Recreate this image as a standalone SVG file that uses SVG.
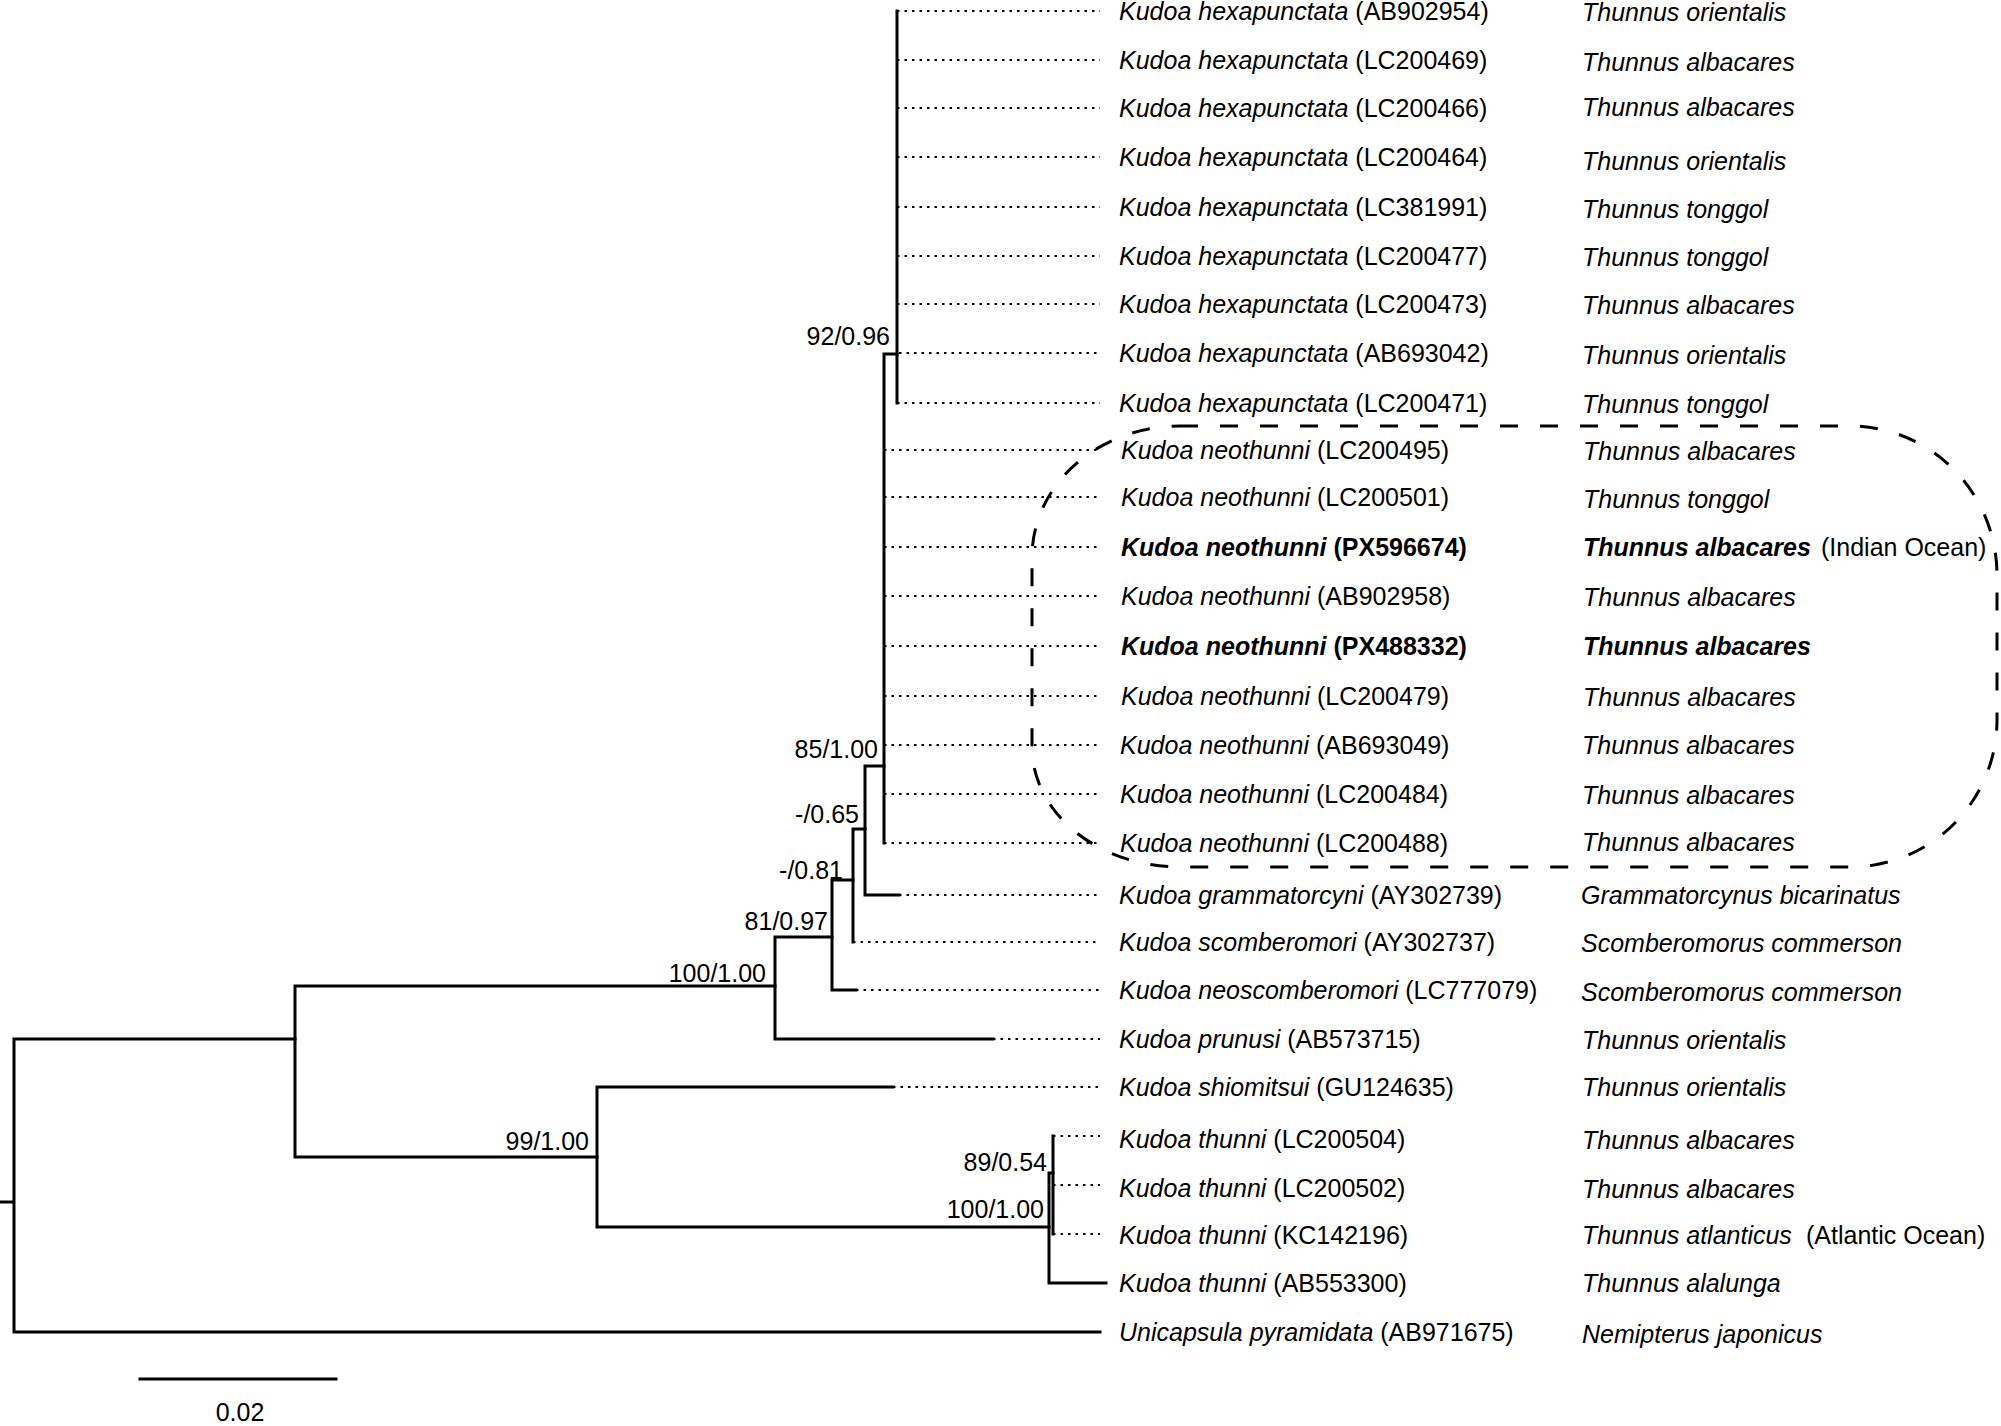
<svg xmlns="http://www.w3.org/2000/svg" width="2001" height="1426" viewBox="0 0 2001 1426">
<style>
text{font-family:"Liberation Sans",Arial,sans-serif;font-size:25px;fill:#000}
.i{font-style:italic}
.b{font-weight:bold}
.br{stroke:#000;stroke-width:3;fill:none;stroke-linecap:square}
.dt{stroke:#000;stroke-width:2;stroke-dasharray:2.5 5;fill:none}
.lab{text-anchor:end}
</style>
<rect width="2001" height="1426" fill="#fff"/>
<g id="connectors">
<path class="br" d="M0 1202H14M14 1039V1332M14 1039H295M14 1332H1100"/>
<path class="br" d="M295 986V1157M295 986H775M295 1157H597"/>
<path class="br" d="M775 937V1039M775 937H832M775 1039H993"/>
<path class="br" d="M832 880V990M832 880H853M832 990H856"/>
<path class="br" d="M853 829V942M853 829H865"/>
<path class="br" d="M865 766V895M865 766H884M865 895H899"/>
<path class="br" d="M884 354V843M884 354H897"/>
<path class="br" d="M897 11V403"/>
<path class="br" d="M597 1087V1227M597 1087H893M597 1227H1049"/>
<path class="br" d="M1049 1173V1283M1049 1173H1053M1049 1283H1106"/>
<path class="br" d="M1053 1136V1234"/>
<path class="dt" d="M897 11H1100M897 60H1100M897 108H1100M897 157H1100M897 207H1100M897 256H1100M897 304H1100M899 353H1100M897 403H1100"/>
<path class="dt" d="M884 450H1100M884 497H1100M884 547H1100M884 596H1100M884 646H1100M884 696H1100M884 745H1100M884 794H1100M884 843H1100"/>
<path class="dt" d="M899 895H1100M853 942H1100M856 990H1100M993 1039H1100M893 1087H1100M1053 1136H1100M1053 1185H1100M1053 1234H1100"/>
</g>
<g id="neothunni-clade-outline">
<path d="M1180 426H1850A147 149 0 0 1 1997 575V720A147 147 0 0 1 1850 867H1180A148 120 0 0 1 1032 747V557A148 131 0 0 1 1180 426Z" fill="none" stroke="#000" stroke-width="3" stroke-dasharray="18 22"/>
</g>
<g id="support-labels">
<text class="lab" x="890" y="345">92/0.96</text>
<text class="lab" x="878" y="758">85/1.00</text>
<text class="lab" x="859" y="823">-/0.65</text>
<text class="lab" x="843" y="879">-/0.81</text>
<text class="lab" x="828" y="930">81/0.97</text>
<text class="lab" x="766" y="982">100/1.00</text>
<text class="lab" x="589" y="1150">99/1.00</text>
<text class="lab" x="1047" y="1171">89/0.54</text>
<text class="lab" x="1044" y="1218">100/1.00</text>
</g>
<g id="leaf-AB902954"><text x="1119" y="20"><tspan class="i">Kudoa hexapunctata</tspan> (AB902954)</text><text class="i" x="1582" y="21">Thunnus orientalis</text></g>
<g id="leaf-LC200469"><text x="1119" y="69"><tspan class="i">Kudoa hexapunctata</tspan> (LC200469)</text><text class="i" x="1582" y="71">Thunnus albacares</text></g>
<g id="leaf-LC200466"><text x="1119" y="117"><tspan class="i">Kudoa hexapunctata</tspan> (LC200466)</text><text class="i" x="1582" y="116">Thunnus albacares</text></g>
<g id="leaf-LC200464"><text x="1119" y="166"><tspan class="i">Kudoa hexapunctata</tspan> (LC200464)</text><text class="i" x="1582" y="170">Thunnus orientalis</text></g>
<g id="leaf-LC381991"><text x="1119" y="216"><tspan class="i">Kudoa hexapunctata</tspan> (LC381991)</text><text class="i" x="1582" y="218">Thunnus tonggol</text></g>
<g id="leaf-LC200477"><text x="1119" y="265"><tspan class="i">Kudoa hexapunctata</tspan> (LC200477)</text><text class="i" x="1582" y="266">Thunnus tonggol</text></g>
<g id="leaf-LC200473"><text x="1119" y="313"><tspan class="i">Kudoa hexapunctata</tspan> (LC200473)</text><text class="i" x="1582" y="314">Thunnus albacares</text></g>
<g id="leaf-AB693042"><text x="1119" y="362"><tspan class="i">Kudoa hexapunctata</tspan> (AB693042)</text><text class="i" x="1582" y="364">Thunnus orientalis</text></g>
<g id="leaf-LC200471"><text x="1119" y="412"><tspan class="i">Kudoa hexapunctata</tspan> (LC200471)</text><text class="i" x="1582" y="413">Thunnus tonggol</text></g>
<g id="leaf-LC200495"><text x="1121" y="459"><tspan class="i">Kudoa neothunni</tspan> (LC200495)</text><text class="i" x="1583" y="460">Thunnus albacares</text></g>
<g id="leaf-LC200501"><text x="1121" y="506"><tspan class="i">Kudoa neothunni</tspan> (LC200501)</text><text class="i" x="1583" y="508">Thunnus tonggol</text></g>
<g id="leaf-PX596674"><text class="b" x="1121" y="556"><tspan class="i">Kudoa neothunni</tspan> (PX596674)</text><text x="1583" y="556"><tspan class="i b">Thunnus albacares</tspan><tspan x="1821">(Indian Ocean)</tspan></text></g>
<g id="leaf-AB902958"><text x="1121" y="605"><tspan class="i">Kudoa neothunni</tspan> (AB902958)</text><text class="i" x="1583" y="606">Thunnus albacares</text></g>
<g id="leaf-PX488332"><text class="b" x="1121" y="655"><tspan class="i">Kudoa neothunni</tspan> (PX488332)</text><text class="i b" x="1583" y="655">Thunnus albacares</text></g>
<g id="leaf-LC200479"><text x="1121" y="705"><tspan class="i">Kudoa neothunni</tspan> (LC200479)</text><text class="i" x="1583" y="706">Thunnus albacares</text></g>
<g id="leaf-AB693049"><text x="1120" y="754"><tspan class="i">Kudoa neothunni</tspan> (AB693049)</text><text class="i" x="1582" y="754">Thunnus albacares</text></g>
<g id="leaf-LC200484"><text x="1120" y="803"><tspan class="i">Kudoa neothunni</tspan> (LC200484)</text><text class="i" x="1582" y="804">Thunnus albacares</text></g>
<g id="leaf-LC200488"><text x="1120" y="852"><tspan class="i">Kudoa neothunni</tspan> (LC200488)</text><text class="i" x="1582" y="851">Thunnus albacares</text></g>
<g id="leaf-AY302739"><text x="1119" y="904"><tspan class="i">Kudoa grammatorcyni</tspan> (AY302739)</text><text class="i" x="1581" y="904">Grammatorcynus bicarinatus</text></g>
<g id="leaf-AY302737"><text x="1119" y="951"><tspan class="i">Kudoa scomberomori</tspan> (AY302737)</text><text class="i" x="1581" y="952">Scomberomorus commerson</text></g>
<g id="leaf-LC777079"><text x="1119" y="999"><tspan class="i">Kudoa neoscomberomori</tspan> (LC777079)</text><text class="i" x="1581" y="1001">Scomberomorus commerson</text></g>
<g id="leaf-AB573715"><text x="1119" y="1048"><tspan class="i">Kudoa prunusi</tspan> (AB573715)</text><text class="i" x="1582" y="1049">Thunnus orientalis</text></g>
<g id="leaf-GU124635"><text x="1119" y="1096"><tspan class="i">Kudoa shiomitsui</tspan> (GU124635)</text><text class="i" x="1582" y="1096">Thunnus orientalis</text></g>
<g id="leaf-LC200504"><text x="1119" y="1148"><tspan class="i">Kudoa thunni</tspan> (LC200504)</text><text class="i" x="1582" y="1149">Thunnus albacares</text></g>
<g id="leaf-LC200502"><text x="1119" y="1197"><tspan class="i">Kudoa thunni</tspan> (LC200502)</text><text class="i" x="1582" y="1198">Thunnus albacares</text></g>
<g id="leaf-KC142196"><text x="1119" y="1244"><tspan class="i">Kudoa thunni</tspan> (KC142196)</text><text x="1582" y="1244"><tspan class="i">Thunnus atlanticus</tspan><tspan x="1806">(Atlantic Ocean)</tspan></text></g>
<g id="leaf-AB553300"><text x="1119" y="1292"><tspan class="i">Kudoa thunni</tspan> (AB553300)</text><text class="i" x="1582" y="1292">Thunnus alalunga</text></g>
<g id="leaf-AB971675"><text x="1119" y="1341"><tspan class="i">Unicapsula pyramidata</tspan> (AB971675)</text><text class="i" x="1582" y="1343">Nemipterus japonicus</text></g>
<g id="scale-bar">
<path class="br" d="M140 1379H336"/>
<text x="240" y="1421" text-anchor="middle">0.02</text>
</g>
</svg>
